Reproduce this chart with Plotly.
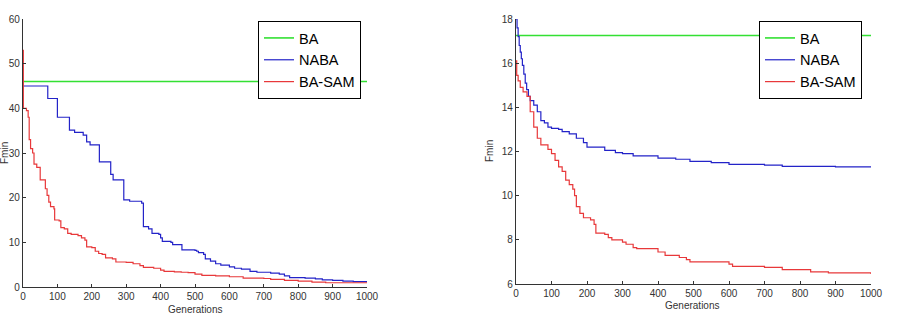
import plotly.graph_objects as go

# ---------------- data ----------------
gens_ba = [0, 1000]
left_ba = [46, 46]

left_naba_x = [0, 72, 100, 135, 150, 175, 185, 195, 222, 255, 262, 293, 310, 345, 350, 365, 375, 395, 400, 405,
               430, 435, 462, 500, 505, 510, 525, 530, 545, 560, 575, 600, 615, 635, 660, 680, 720, 745, 760,
               775, 820, 850, 870, 900, 930, 960, 1000]
left_naba_y = [45, 42.2, 38, 35.1, 34.6, 34, 32.5, 31.8, 28, 25.2, 24, 19.5, 19.2, 18.8, 13.5, 13, 12, 11.8, 11, 10.2,
               10, 9.5, 8.3, 8.2, 8, 7.7, 7.3, 6.3, 5.8, 5.2, 4.9, 4.5, 4.2, 4.0, 3.5, 3.3, 3.1, 2.9, 2.5,
               2.1, 2.0, 1.8, 1.6, 1.5, 1.3, 1.2, 1.1]

left_sam_x = [0, 1, 10, 15, 18, 22, 28, 32, 40, 50, 65, 70, 75, 80, 90, 92, 105, 110, 120, 130, 140, 160, 170, 180,
              185, 200, 210, 220, 230, 240, 260, 270, 300, 320, 340, 350, 380, 400, 410, 440, 460, 480, 500, 520,
              560, 600, 640, 700, 720, 760, 800, 840, 880, 1000]
left_sam_y = [53, 40, 39.5, 38, 33, 31, 30, 27.5, 26.8, 24, 22, 20.5, 19, 18, 17.5, 15, 14.8, 13.3, 13, 12, 11.8, 11.5,
              11, 10.5, 9, 8.8, 8, 7.5, 7.3, 6.5, 6.3, 5.6, 5.5, 5.2, 4.8, 4.4, 4.2, 3.8, 3.5, 3.4, 3.3, 3.2, 2.9,
              2.6, 2.5, 2.3, 2.0, 1.9, 1.7, 1.5, 1.3, 1.1, 0.95, 0.95]

right_ba = [17.25, 17.25]

right_naba_x = [0, 3, 6, 9, 12, 15, 18, 22, 26, 30, 35, 40, 50, 60, 70, 80, 90, 100, 120, 130, 150, 170, 190, 200,
                250, 280, 300, 330, 400, 450, 490, 550, 600, 700, 750, 900, 1000]
right_naba_y = [18, 17.6, 17.2, 16.8, 16.5, 16.2, 15.9, 15.5, 15.1, 14.8, 14.5, 14.3, 14.1, 13.8, 13.4, 13.3, 13.1,
                13.05, 13.0, 12.9, 12.8, 12.6, 12.4, 12.2, 12.05, 11.95, 11.9, 11.8, 11.7, 11.65, 11.55, 11.5,
                11.42, 11.38, 11.33, 11.3, 11.28]

right_sam_x = [0, 2, 6, 12, 20, 31, 40, 50, 60, 70, 90, 100, 110, 120, 130, 140, 150, 160, 165, 170, 180, 190, 210,
               220, 225, 250, 260, 270, 300, 310, 330, 340, 400, 420, 460, 480, 490, 600, 610, 700, 750, 830, 880, 1000]
right_sam_y = [16.1, 15.45, 15.2, 14.9, 14.7, 14.5, 13.8, 13.1, 12.6, 12.3, 12.1, 11.9, 11.6, 11.3, 11.1, 10.7, 10.5,
               10.3, 10.0, 9.5, 9.2, 9.0, 8.9, 8.7, 8.3, 8.25, 8.1, 8.0, 7.9, 7.8, 7.65, 7.6, 7.45, 7.3, 7.2, 7.1,
               7.0, 6.9, 6.8, 6.75, 6.65, 6.55, 6.5, 6.45]

x_ticks = list(range(0, 1001, 100))

# ---------------- styles ----------------
GREEN = "#33e033"
BLUE = "#2323c8"
RED = "#e8383a"
LW = 1.2
FONT = "Liberation Sans, Arial, sans-serif"

fig = go.Figure()

def add(x, y, name, color, xa, ya, legend, width=LW, shape="hv"):
    fig.add_trace(go.Scatter(x=x, y=y, name=name, mode="lines", line=dict(color=color, width=width, shape=shape),
                             xaxis=xa, yaxis=ya, legend=legend))

add(gens_ba, left_ba, "BA", GREEN, "x", "y", "legend", width=1.6, shape="linear")
add(left_naba_x, left_naba_y, "NABA", BLUE, "x", "y", "legend")
add(left_sam_x, left_sam_y, "BA-SAM", RED, "x", "y", "legend")

add(gens_ba, right_ba, "BA", GREEN, "x2", "y2", "legend2", width=1.6, shape="linear")
add(right_naba_x, right_naba_y, "NABA", BLUE, "x2", "y2", "legend2")
add(right_sam_x, right_sam_y, "BA-SAM", RED, "x2", "y2", "legend2")

W, H = 919, 314
axis_common = dict(showgrid=False, zeroline=False, showline=True, linecolor="#333333", linewidth=1.2,
                   ticks="inside", ticklen=3, tickcolor="#333333", automargin=False,
                   tickfont=dict(family=FONT, size=10, color="#333333"))

def px(v):
    return v / W

def py(v):
    return 1 - v / H

LEG_FONT = dict(family=FONT, size=14.5, color="black")

fig.update_layout(
    width=W, height=H,
    margin=dict(l=0, r=0, t=0, b=0),
    paper_bgcolor="white", plot_bgcolor="white",
    font=dict(family=FONT),
    xaxis=dict(domain=[px(23), px(367)], range=[0, 1000], tickvals=x_ticks, anchor="y", **axis_common),
    yaxis=dict(domain=[py(287), py(19)], range=[0, 60], dtick=10, anchor="x", **axis_common),
    xaxis2=dict(domain=[px(516), px(871)], range=[0, 1000], tickvals=x_ticks, anchor="y2", **axis_common),
    yaxis2=dict(domain=[py(284), py(19)], range=[6, 18], dtick=2, anchor="x2", **axis_common),
    legend=dict(x=px(258), y=py(21), xanchor="left", yanchor="top", bgcolor="white", bordercolor="black",
                borderwidth=1, font=LEG_FONT, tracegroupgap=0),
    legend2=dict(x=px(759), y=py(21), xanchor="left", yanchor="top", bgcolor="white", bordercolor="black",
                 borderwidth=1, font=LEG_FONT, tracegroupgap=0),
    showlegend=True,
)

lab = dict(xref="paper", yref="paper", showarrow=False, xanchor="center", yanchor="middle",
           font=dict(family=FONT, size=10, color="#333333"))
annos = [
    dict(text="Generations", x=px(195), y=py(309), **lab),
    dict(text="Generations", x=px(692), y=py(305), **lab),
    dict(text="Fmin", x=px(4), y=py(153), textangle=-90, **lab),
    dict(text="Fmin", x=px(489), y=py(151), textangle=-90, **lab),
]
fig.update_layout(annotations=annos)

fig.write_html("out.html")
